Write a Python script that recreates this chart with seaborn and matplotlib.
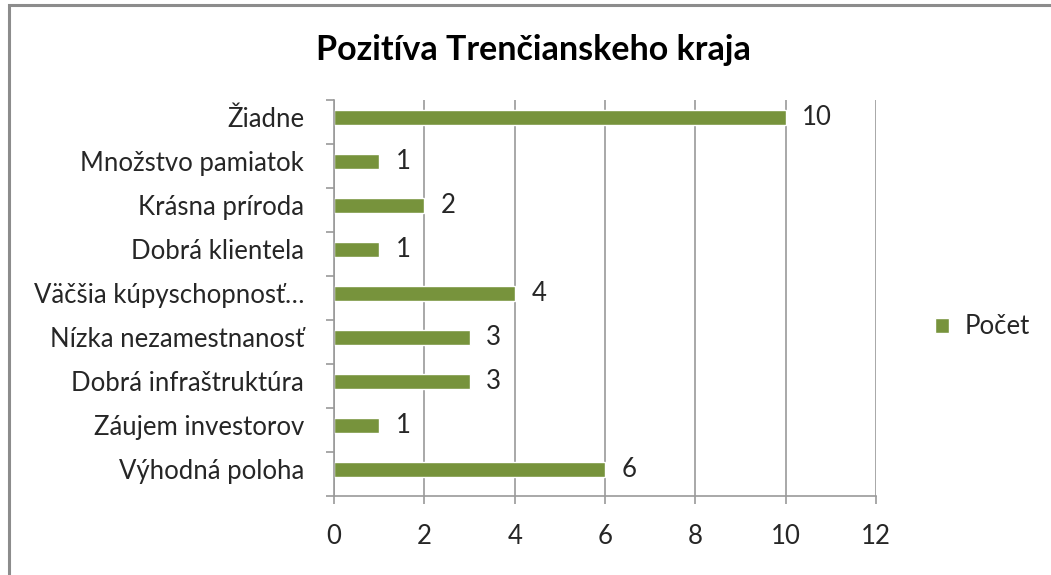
import numpy as np
import pandas as pd
import matplotlib
matplotlib.use('Agg')
import matplotlib.pyplot as plt
import seaborn as sns
from matplotlib.patches import Rectangle

# chart data, top to bottom as in the reference
categories = ['Žiadne', 'Množstvo pamiatok', 'Krásna príroda', 'Dobrá klientela',
              'Väčšia kúpyschopnosť…', 'Nízka nezamestnanosť', 'Dobrá infraštruktúra',
              'Záujem investorov', 'Výhodná poloha']
counts = [10, 1, 2, 1, 4, 3, 3, 1, 6]
series_name = 'Počet'
title = 'Pozitíva Trenčianskeho kraja'
x_ticks = [0, 2, 4, 6, 8, 10, 12]

BAR = '#77933C'
GRID = '#9a9a9a'
TEXT = '#262626'
FS = 18.5

sns.set_theme(style='white')
plt.rcParams['font.family'] = ['Lato', 'DejaVu Sans']

df = pd.DataFrame({'kategoria': categories, series_name: counts})

fig = plt.figure(figsize=(10.51, 5.75), dpi=100)
ax = fig.add_axes([334 / 1051, 1 - 496 / 575, 542 / 1051, 396 / 575])

sns.barplot(data=df, y='kategoria', x=series_name, orient='h', color=BAR,
            width=0.34, saturation=1, ax=ax, label=series_name)

# excel-ish frame: gridlines, ticks at category boundaries
shift = 0.39
ax.set_ylim(len(categories) - shift, -shift)
ax.set_xlim(0, 12)
ax.set_xticks(x_ticks)
ax.xaxis.grid(True, color=GRID, linewidth=1.2)
ax.set_axisbelow(True)
for s in ['top', 'right']:
    ax.spines[s].set_visible(False)
for s in ['left', 'bottom']:
    ax.spines[s].set_color(GRID)
    ax.spines[s].set_linewidth(1.2)

ax.set_yticks(np.arange(len(categories)))
ax.set_yticklabels(categories)
ax.set_yticks(np.arange(len(categories) + 1) - shift, minor=True)
ax.tick_params(axis='y', which='major', length=0, pad=21.5, labelsize=FS, labelcolor=TEXT)
ax.tick_params(axis='y', which='minor', left=True, length=6, width=1.2, color=GRID)
ax.tick_params(axis='x', which='major', bottom=True, length=6, width=1.2, color=GRID,
               pad=14, labelsize=FS, labelcolor=TEXT)
ax.set_xlabel('')
ax.set_ylabel('')

ax.bar_label(ax.containers[0], padding=12, fontsize=FS, color=TEXT)

fig.text(533 / 1051, 1 - 50 / 575, title, ha='center', va='center',
         fontsize=24.5, fontweight='bold', color='black')

ax.legend(loc='center left', bbox_to_anchor=(912 / 1051, 1 - 327 / 575),
          bbox_transform=fig.transFigure, frameon=False, fontsize=FS,
          handlelength=0.55, handleheight=0.55, handletextpad=0.6, labelcolor=TEXT)

# outer chart border (only the top/left edges are visible in the crop)
fig.patches.append(Rectangle((9 / 1051, -0.1), 1.2, 1 - 5 / 575 + 0.1,
                             transform=fig.transFigure, fill=False,
                             edgecolor='#8c8c8c', linewidth=2.2))

fig.savefig('out.png', dpi=100)
